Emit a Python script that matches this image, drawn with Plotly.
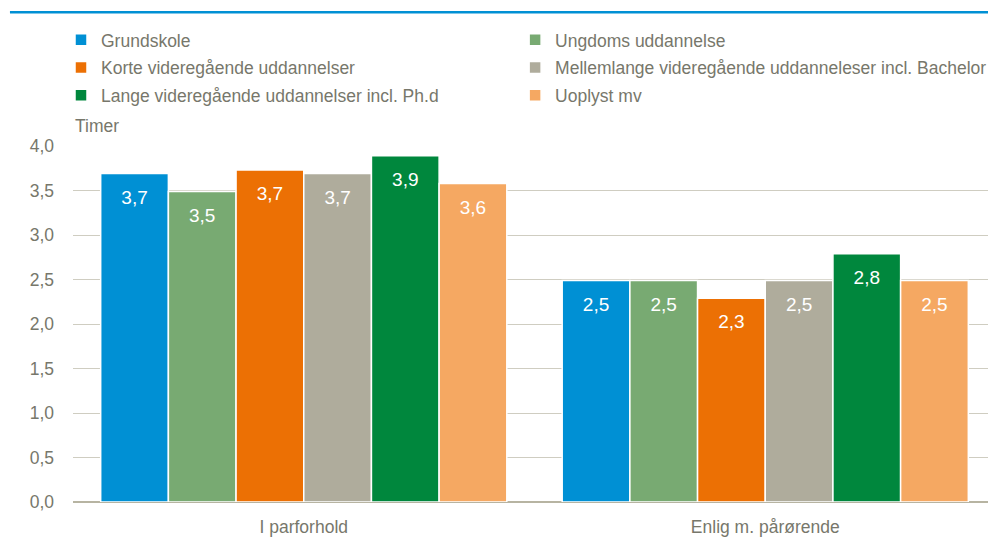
import plotly.graph_objects as go

categories = ["I parforhold", "Enlig m. pårørende"]
series_names = [
    "Grundskole",
    "Ungdoms uddannelse",
    "Korte videregående uddannelser",
    "Mellemlange videregående uddanneleser incl. Bachelor",
    "Lange videregående uddannelser incl. Ph.d",
    "Uoplyst mv",
]
grundskole = [3.69, 2.49]
ungdoms = [3.49, 2.49]
korte = [3.73, 2.29]
mellemlange = [3.69, 2.49]
lange = [3.89, 2.79]
uoplyst = [3.58, 2.49]
series_values = [grundskole, ungdoms, korte, mellemlange, lange, uoplyst]
colors = ["#0090d4", "#78aa72", "#ec7004", "#afac9c", "#00873d", "#f5a862"]
y_ticks = [0, 0.5, 1.0, 1.5, 2.0, 2.5, 3.0, 3.5, 4.0]
y_title = "Timer"

FONT = "Liberation Sans, Arial, sans-serif"
FS = 17.5
TXT = "#77776b"
BARGAP = 0.12

fig = go.Figure()
for i, (name, vals, col) in enumerate(zip(series_names, series_values, colors)):
    fig.add_trace(go.Bar(
        x=categories, y=vals, name=name, offsetgroup=name,
        legend="legend" if i % 2 == 0 else "legend2",
        legendgroup=name,
        marker=dict(color=col, line=dict(color="white", width=1.5)),
        hoverinfo="y+name",
    ))
for name, vals in zip(series_names, series_values):
    fig.add_trace(go.Scatter(
        x=categories, y=vals, mode="markers+text", offsetgroup=name,
        text=[f"{v:.1f}".replace(".", ",") for v in vals],
        textposition="bottom center",
        textfont=dict(color="white", size=19, family=FONT),
        marker=dict(size=24, opacity=0),
        showlegend=False, hoverinfo="skip", cliponaxis=False,
    ))

legend_common = dict(
    orientation="v", xanchor="left", y=0.974, yanchor="top",
    yref="container", font=dict(size=FS, color=TXT, family=FONT),
    traceorder="grouped", tracegroupgap=2, bgcolor="rgba(0,0,0,0)",
    itemclick=False, itemdoubleclick=False,
)

fig.update_layout(
    width=988, height=534,
    margin=dict(l=65, r=0, t=138, b=40, autoexpand=False),
    paper_bgcolor="white", plot_bgcolor="white",
    barmode="group", bargap=BARGAP, bargroupgap=0,
    scattermode="group", scattergap=BARGAP,
    separators=",.",
    font=dict(family=FONT, size=FS, color=TXT),
    showlegend=True,
    legend=dict(x=-0.013, **legend_common),
    legend2=dict(x=0.479, **legend_common),
    xaxis=dict(showgrid=False, showline=False, ticks="", ticklabelstandoff=12,
               tickfont=dict(size=FS, color=TXT)),
    yaxis=dict(
        range=[0, 4.0], tickvals=y_ticks, tickformat=".1f",
        showgrid=True, gridcolor="#cfcdc1", gridwidth=1,
        zeroline=True, zerolinecolor="#b7b4a2", zerolinewidth=2,
        showline=False, ticks="", ticklabelstandoff=18,
        tickfont=dict(size=FS, color=TXT),
    ),
    annotations=[dict(
        text=y_title, xref="paper", yref="paper", x=0, y=1, xanchor="left",
        yanchor="middle", yshift=20, showarrow=False,
        font=dict(size=FS, color=TXT, family=FONT),
    )],
    shapes=[dict(
        type="line", xref="paper", yref="paper", x0=-0.0683, x1=1.0,
        y0=1.376, y1=1.376, line=dict(color="#0090d4", width=2.5),
    )],
)
fig.write_html("out.html")
